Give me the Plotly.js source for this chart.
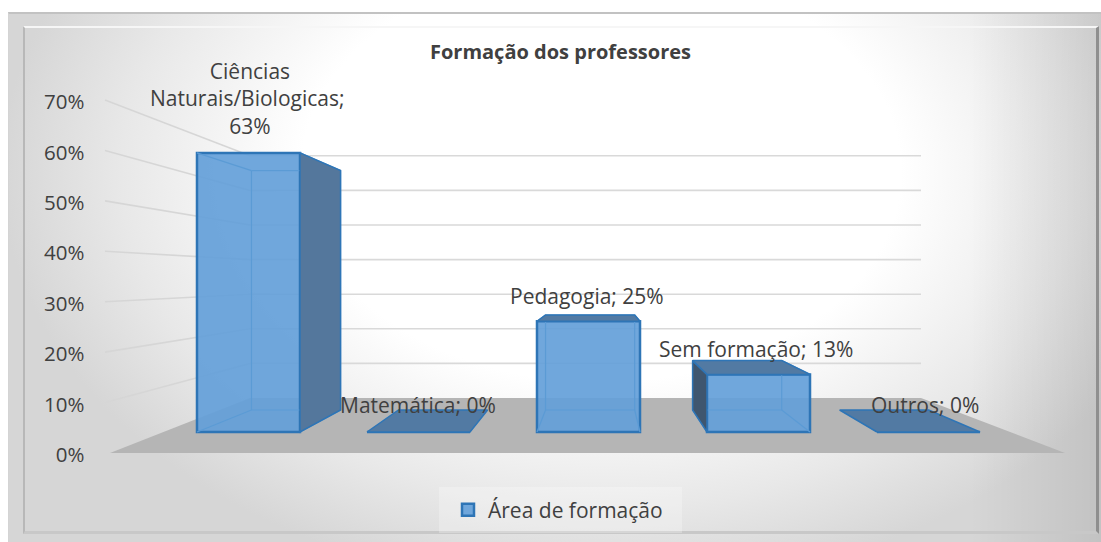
<!DOCTYPE html>
<html><head><meta charset="utf-8">
<script src="https://cdn.plot.ly/plotly-3.0.1.min.js"></script>
<style>
html,body{margin:0;padding:0;background:#fff;width:1101px;height:542px;overflow:hidden}
#frame{position:absolute;left:8px;top:12px;width:1093px;height:530px;box-sizing:border-box;border-top:2px solid #c2c2c2;border-left:1px solid #d4d4d4;
 background:linear-gradient(to right,rgba(0,0,0,0) 88%,rgba(0,0,0,0.09) 100%),radial-gradient(ellipse 600px 420px at 592px 158px,#ffffff 0%,#ffffff 50%,#e8e8e8 80%,#d6d6d6 100%)}
#inner{position:absolute;left:14px;top:12px;width:1076px;height:508px;box-sizing:border-box;border-left:2px solid #b8b8b8;border-right:3px solid #8f8f8f;border-bottom:3px solid #c8c8c8;border-top:2px solid #f6f6f6}
#chart{position:absolute;left:0;top:0;width:1101px;height:542px}
</style></head><body>
<div id="frame"><div id="inner"></div></div>
<div id="chart"></div>
<script>
const categories = ["Ciências<br>Naturais/Biologicas", "Matemática", "Pedagogia", "Sem formação", "Outros"];
const values = [63, 0, 25, 13, 0];
const tickValues = [0, 10, 20, 30, 40, 50, 60, 70];
const seriesName = "Área de formação";
const chartTitle = "Formação dos professores";

// pixel helpers: the x axis counts category slots, y2 is the front plane of the bars
const W = 1101, H = 542, SLOT = 170, X0 = 248.5, BASE = 432, K = 4.43;
const ux = p => (p - X0) / SLOT;
const uy = p => (BASE - p) / K;
const BAR = 0.606, VX = 2.07, DX = 0.865;
const backX = x => VX + DX * (x - VX);
const backY = v => (22 + 3.8 * v) / K;

const BLUE = "#2e75b6", TOP = "#527aa3", RIGHT = "#54779c", LEFT = "#3f566f", INNER = "#5b9bd5";
const TXT = "#404040", FONT = "Open Sans, Noto Sans, sans-serif";

const traces = [{
  type: "bar", name: seriesName, x: values.map((_, i) => i), y: values, yaxis: "y2",
  width: BAR, marker: {color: "rgba(100,160,217,0.92)", line: {color: BLUE, width: 2.5}},
  showlegend: true, hoverinfo: "skip"
}, {
  type: "scatter", mode: "none", x: tickValues.map(() => 0), y: tickValues, yaxis: "y", showlegend: false, hoverinfo: "skip"
}];
function poly(xs, ys, fill, line, lw) {
  traces.push({type: "scatter", mode: "lines", x: xs.concat(xs[0]), y: ys.concat(ys[0]), yaxis: "y2",
    fill: "toself", fillcolor: fill, line: {color: line, width: lw === undefined ? 1.5 : lw}, showlegend: false, hoverinfo: "skip"});
}
function seg(xs, ys) {
  traces.push({type: "scatter", mode: "lines", x: xs, y: ys, yaxis: "y2", line: {color: INNER, width: 1.2}, showlegend: false, hoverinfo: "skip"});
}
values.forEach((v, i) => {
  const l = i - BAR / 2, r = i + BAR / 2, bl = backX(l), br = backX(r), bt = backY(v), b0 = backY(0);
  if (v > 0) {
    seg([bl, bl, br, br], [bt, b0, b0, bt]);
    seg([bl, br], [bt, bt]);
    seg([l, bl], [0, b0]);
    seg([r, br], [0, b0]);
    seg([l, bl], [v, bt]);
    seg([r, br], [v, bt]);
    if (br > r) poly([r, br, br, r], [v, bt, b0, 0], RIGHT, BLUE);
    if (bl < l) poly([l, bl, bl, l], [v, bt, b0, 0], LEFT, BLUE);
  }
  if (bt > v) poly([l, r, br, bl], [v, v, bt, bt], TOP, BLUE);
});

// walls and floor, drawn from the axis ticks
const shapes = [];
const FLOOR_BACK = 398, WALL_K = 3.46, WALL_L = 250, WALL_R = 921, TICK_X = 105, T0 = 453, T_K = 353 / 70, LABEL_DROP = 2;
tickValues.forEach(t => {
  const by = uy(FLOOR_BACK - WALL_K * t), ly = uy(T0 - T_K * t);
  if (t > 0) {
    shapes.push({type: "line", xref: "x", yref: "y2", layer: "below", x0: ux(TICK_X), y0: ly, x1: ux(WALL_L), y1: by, line: {color: "#d6d6d6", width: 1.6}});
    shapes.push({type: "line", xref: "x", yref: "y2", layer: "below", x0: ux(WALL_L), y0: by, x1: ux(WALL_R), y1: by, line: {color: "#d9d9d9", width: 1.6}});
  }
});
const fp = [[110, 453], [1065, 453], [WALL_R, FLOOR_BACK], [WALL_L, FLOOR_BACK]];
shapes.push({type: "path", xref: "x", yref: "y2", layer: "below",
  path: "M" + fp.map(p => ux(p[0]) + "," + uy(p[1])).join("L") + "Z", fillcolor: "#b5b5b5", line: {width: 0}});
// legend plate
shapes.push({type: "rect", xref: "paper", yref: "paper", layer: "below", x0: 439 / W, x1: 682 / W, y0: 1 - 533 / H, y1: 1 - 487 / H, fillcolor: "rgba(255,255,255,0.25)", line: {width: 0}});

// data labels
const labelPx = [[249.5, 98], [418, 405], [587, 296], [755.5, 349], [925, 405]];
const annotations = values.map((v, i) => ({
  xref: "x", yref: "y2", x: ux(labelPx[i][0]), y: uy(labelPx[i][1]),
  text: categories[i] + "; " + (i === 0 ? "<br>" : "") + v + "%", showarrow: false, align: "center",
  xanchor: "center", yanchor: "middle", font: {family: FONT, size: 21, color: TXT}
}));

const layout = {
  width: W, height: H, margin: {l: 0, r: 0, t: 0, b: 0, autoexpand: false},
  paper_bgcolor: "rgba(0,0,0,0)", plot_bgcolor: "rgba(0,0,0,0)", font: {family: FONT, color: TXT},
  title: {text: "<b>" + chartTitle + "</b>", font: {family: FONT, size: 20, color: TXT}, x: 560.5 / W, xanchor: "center", y: 1 - 52 / H, yanchor: "middle"},
  xaxis: {domain: [0, 1], range: [ux(0), ux(W)], visible: false, fixedrange: true},
  yaxis: {domain: [0, 1], range: [(T0 + LABEL_DROP - H) / T_K, (T0 + LABEL_DROP) / T_K], anchor: "free", position: 84.5 / W,
    tickvals: tickValues, ticktext: tickValues.map(t => t + "%"), showgrid: false, zeroline: false, showline: false,
    ticks: "", tickfont: {family: FONT, size: 20.5, color: TXT}, fixedrange: true},
  yaxis2: {domain: [0, 1], range: [uy(H), uy(0)], overlaying: "y", visible: false, fixedrange: true},
  showlegend: true,
  legend: {x: 455 / W, y: 1 - 510 / H, xanchor: "left", yanchor: "middle", bgcolor: "rgba(0,0,0,0)", borderwidth: 0,
    font: {family: FONT, size: 21, color: TXT}, itemwidth: 30, indentation: -7},
  shapes, annotations, bargap: 0
};
Plotly.newPlot("chart", traces, layout, {staticPlot: true, displayModeBar: false});
</script>
</body></html>
